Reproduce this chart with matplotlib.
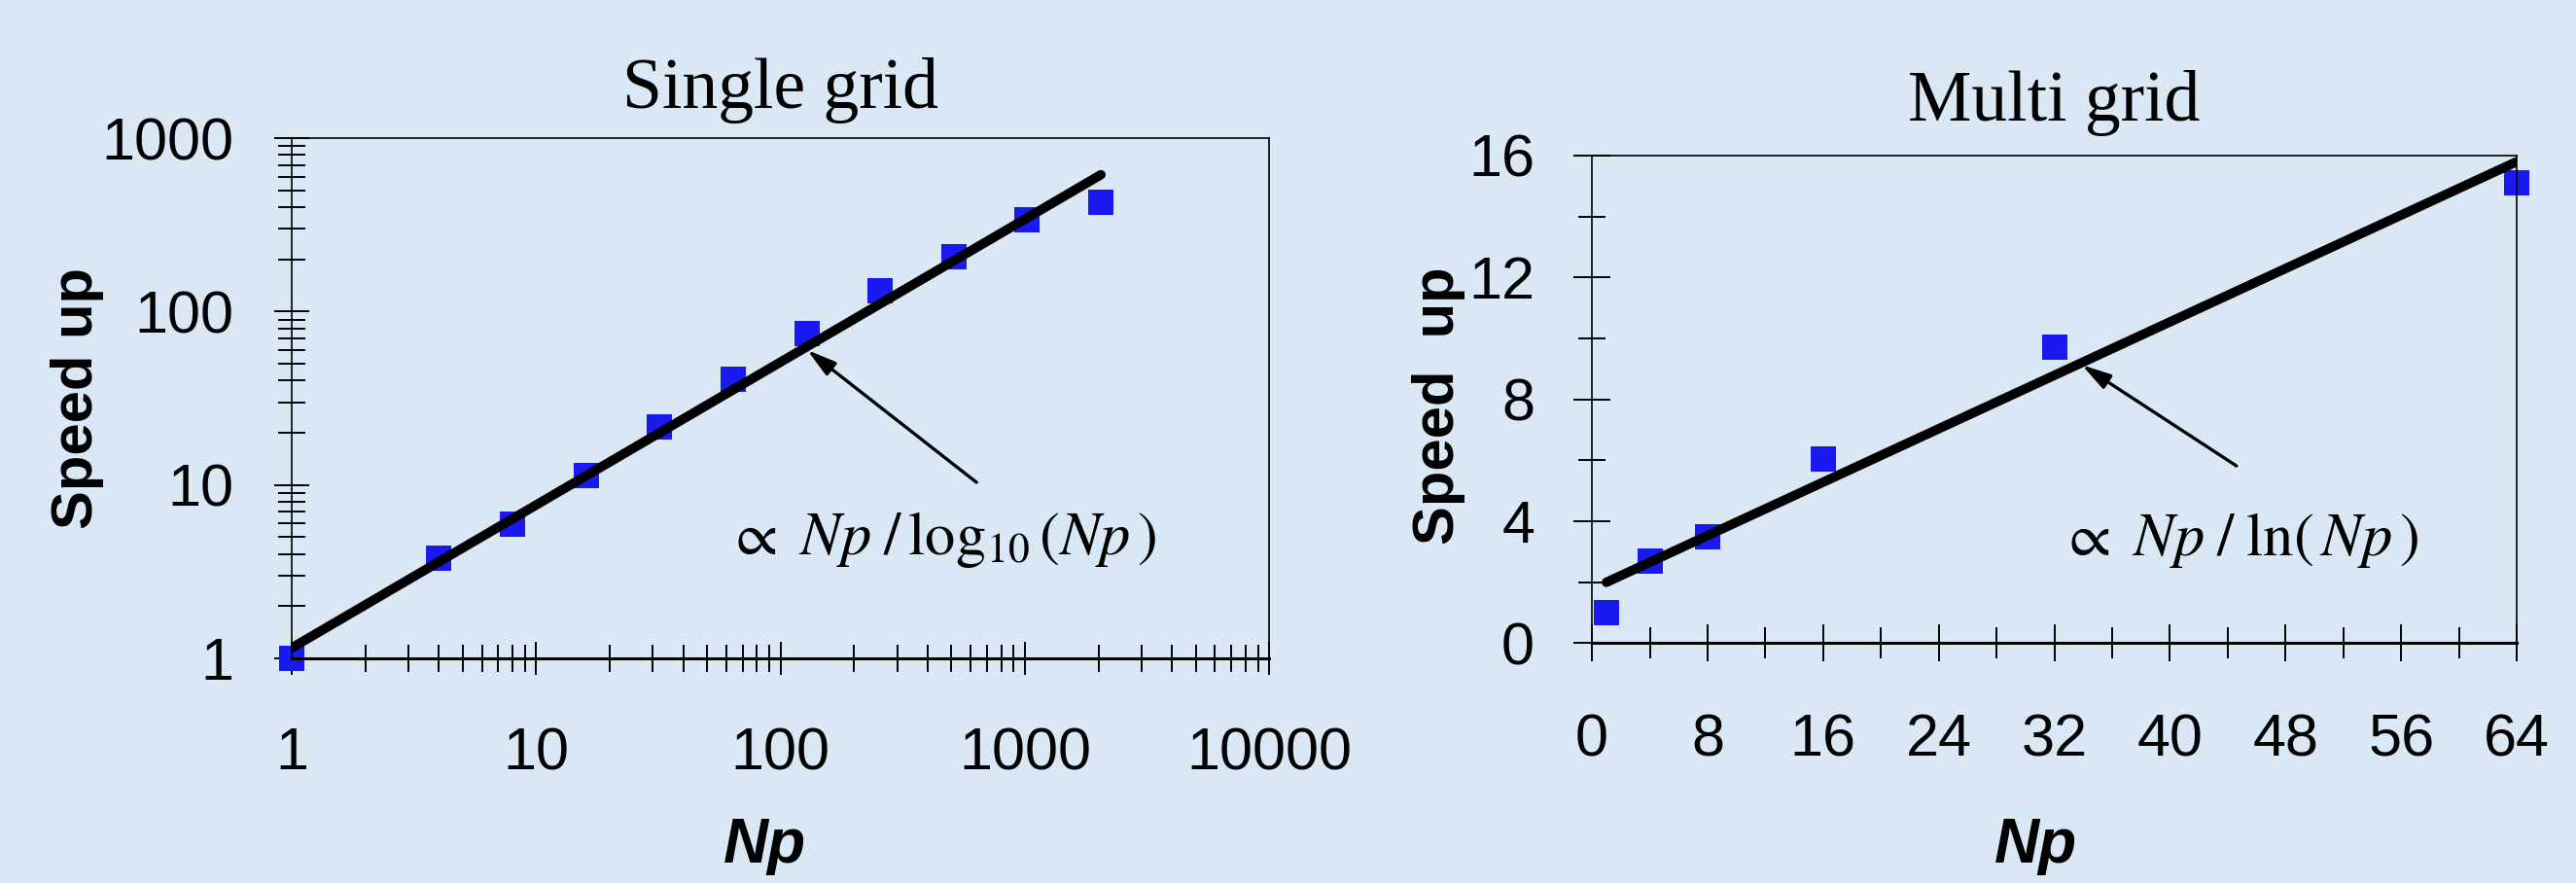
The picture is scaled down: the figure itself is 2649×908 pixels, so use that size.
import numpy as np
import matplotlib
matplotlib.use('Agg')
import matplotlib.pyplot as plt
from matplotlib.ticker import LogLocator, NullFormatter, MultipleLocator, FixedLocator

# Single grid data (log-log)
single_np = [1, 4, 8, 16, 32, 64, 128, 256, 512, 1024, 2048]
single_speedup = [1.0, 3.76, 5.94, 11.4, 21.7, 40.8, 75, 132, 206, 340, 425]
single_fit_np = [1, 2048]
single_fit = [1.15, 615]

# Multi grid data (linear)
multi_np = [1, 4, 8, 16, 32, 64]
multi_speedup = [1.0, 2.71, 3.48, 6.06, 9.72, 15.1]
multi_fit_np = [1, 64]
multi_fit = [2.0, 15.8]

single_xticks = [1, 10, 100, 1000, 10000]
single_yticks = [1, 10, 100, 1000]
multi_xticks = [0, 8, 16, 24, 32, 40, 48, 56, 64]
multi_yticks = [0, 4, 8, 12, 16]

bg = '#dae8f6'
blue = '#1a1af0'
sans = 'Liberation Sans'
serif = 'Liberation Serif'
plt.rcParams['mathtext.fontset'] = 'stix'

fig = plt.figure(figsize=(26.49, 9.08), dpi=100, facecolor=bg)
ax1 = fig.add_axes([0.1133, 0.2544, 0.3794, 0.5892])
ax2 = fig.add_axes([0.6180, 0.2715, 0.3590, 0.5523])

def style_axes(ax):
    ax.set_facecolor('none')
    for side in ['top', 'right', 'left']:
        ax.spines[side].set_linewidth(1.2)
    ax.spines['bottom'].set_linewidth(2.2)
    ax.tick_params(which='both', direction='inout', width=1.4, color='k')
    for lab in ax.get_xticklabels() + ax.get_yticklabels():
        lab.set_fontfamily(sans)
        lab.set_fontsize(44)

arrow_style = dict(arrowstyle='-|>,head_length=0.9,head_width=0.25', lw=2.4, color='k',
                   shrinkA=0, shrinkB=0, mutation_scale=20)

# ---- Single grid ----
ax1.set_xscale('log')
ax1.set_yscale('log')
ax1.set_xlim(1, 10000)
ax1.set_ylim(1, 1000)
ax1.plot(single_fit_np, single_fit, color='k', lw=7, solid_capstyle='round', zorder=3)
ax1.plot(single_np, single_speedup, 's', color=blue, ms=18.5, mew=0, clip_on=False, zorder=2)
ax1.xaxis.set_major_locator(FixedLocator(single_xticks))
ax1.yaxis.set_major_locator(FixedLocator(single_yticks))
ax1.set_xticklabels([str(v) for v in single_xticks])
ax1.set_yticklabels([str(v) for v in single_yticks])
ax1.xaxis.set_minor_locator(LogLocator(base=10, subs=np.arange(2, 10)))
ax1.yaxis.set_minor_locator(LogLocator(base=10, subs=np.arange(2, 10)))
ax1.xaxis.set_minor_formatter(NullFormatter())
ax1.yaxis.set_minor_formatter(NullFormatter())
style_axes(ax1)
ax1.tick_params(axis='x', which='major', length=25, pad=38)
ax1.tick_params(axis='x', which='minor', length=20)
ax1.tick_params(axis='y', which='major', length=26, pad=30)
ax1.tick_params(axis='y', which='minor', length=20)
ax1.set_title('Single grid', fontfamily=serif, fontsize=53, pad=22)
ax1.set_ylabel('Speed up', fontfamily=sans, fontsize=43, fontweight='bold')
ax1.yaxis.set_label_coords(-0.192, 0.5)
ax1.set_xlabel('Np', fontfamily=sans, fontsize=46, fontweight='bold', fontstyle='italic')
ax1.xaxis.set_label_coords(0.484, -0.305)
ax1.annotate('', xy=(128.6, 60), xytext=(634, 10.35), arrowprops=arrow_style)
ax1.text(0.665, 0.2, r'$\propto\ Np\;/\,\log_{10}(Np\,)$', transform=ax1.transAxes,
         ha='center', va='baseline', fontsize=45)

# ---- Multi grid ----
ax2.set_xlim(0, 64)
ax2.set_ylim(0, 16)
ax2.plot(multi_fit_np, multi_fit, color='k', lw=7, solid_capstyle='round', zorder=3)
ax2.plot(multi_np, multi_speedup, 's', color=blue, ms=18.5, mew=0, clip_on=False, zorder=2)
ax2.set_xticks(multi_xticks)
ax2.set_yticks(multi_yticks)
ax2.xaxis.set_minor_locator(MultipleLocator(4))
ax2.yaxis.set_minor_locator(MultipleLocator(2))
style_axes(ax2)
ax2.tick_params(axis='x', which='major', length=27, pad=38)
ax2.tick_params(axis='x', which='minor', length=23)
ax2.tick_params(axis='y', which='major', length=27, pad=29)
ax2.tick_params(axis='y', which='minor', length=20)
ax2.set_title('Multi grid', fontfamily=serif, fontsize=53, pad=26)
ax2.set_ylabel('Speed  up', fontfamily=sans, fontsize=43, fontweight='bold')
ax2.yaxis.set_label_coords(-0.137, 0.487)
ax2.set_xlabel('Np', fontfamily=sans, fontsize=46, fontweight='bold', fontstyle='italic')
ax2.xaxis.set_label_coords(0.48, -0.356)
ax2.annotate('', xy=(33.9, 9.13), xytext=(44.6, 5.82), arrowprops=arrow_style)
ax2.text(0.7, 0.18, r'$\propto\ Np\;/\;\ln(\,Np\,)$', transform=ax2.transAxes,
         ha='center', va='baseline', fontsize=45)

fig.savefig('out.png', dpi=100, facecolor=bg)
